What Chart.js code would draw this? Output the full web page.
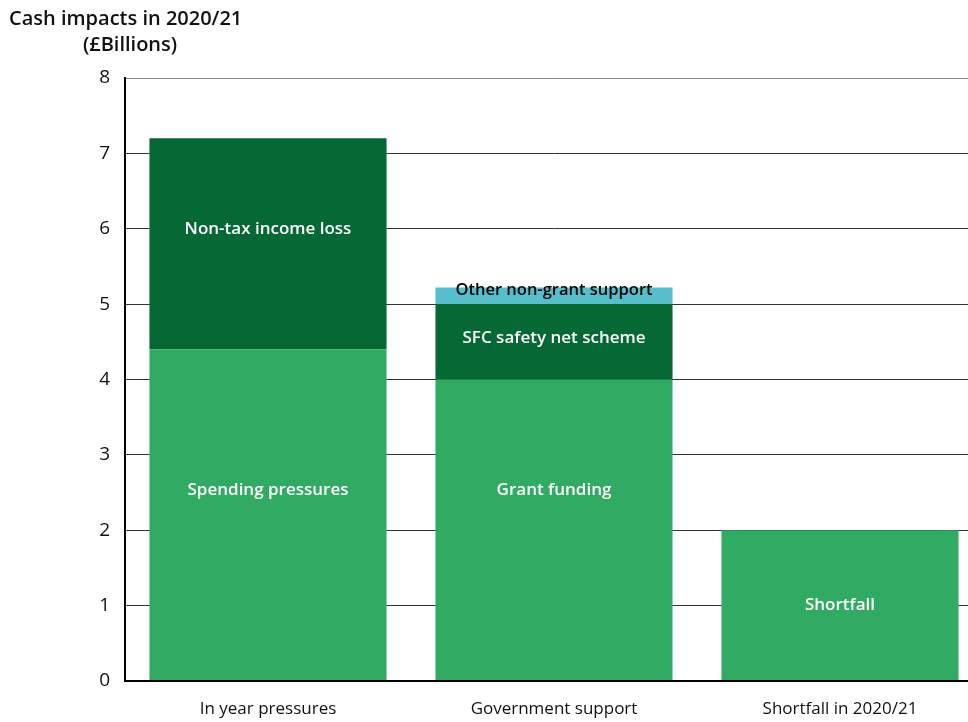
<!DOCTYPE html>
<html><head><meta charset="utf-8">
<script src="https://cdn.jsdelivr.net/npm/chart.js@4/dist/chart.umd.min.js"></script>
<style>html,body{margin:0;padding:0;overflow:hidden;background:#fff;width:968px;height:722px}#wrap{width:983px;height:722px;position:relative}</style>
</head><body><div id="wrap"><canvas id="c" width="983" height="722"></canvas></div>
<script>
const categories = ["In year pressures", "Government support", "Shortfall in 2020/21"];
const baseValues = [4.4, 4.0, 2.0];
const middleValues = [2.8, 1.0, null];
const topValues = [null, 0.22, null];
const baseLabels = ["Spending pressures", "Grant funding", "Shortfall"];
const middleLabels = ["Non-tax income loss", "SFC safety net scheme", ""];
const topLabels = ["", "Other non-grant support", ""];
const yTicks = [0, 1, 2, 3, 4, 5, 6, 7, 8];

const FONT = "'Open Sans', 'Noto Sans', sans-serif";

// label anchor values (in data units) per dataset & category
const labelAnchors = [[2.53, 2.53, 1.0], [6.0, 4.55, null], [5.19, 5.19, null]];
const labelSets = [baseLabels, middleLabels, topLabels];
const labelColors = ['#ffffff', '#ffffff', '#000000'];

const inBarLabels = {
  id: 'inBarLabels',
  afterDatasetsDraw(chart) {
    const ctx = chart.ctx;
    const y = chart.scales.y;
    ctx.save();
    ctx.textAlign = 'center';
    ctx.textBaseline = 'middle';
    chart.data.datasets.forEach((ds, di) => {
      const meta = chart.getDatasetMeta(di);
      meta.data.forEach((el, i) => {
        const txt = labelSets[di][i];
        if (!txt) return;
        ctx.fillStyle = labelColors[di];
        ctx.font = (di === 2 ? '600 16.5px ' : '600 17px ') + FONT;
        ctx.fillText(txt, el.x, y.getPixelForValue(labelAnchors[di][i]));
      });
    });
    ctx.restore();
  }
};

const titlePlugin = {
  id: 'titlePlugin',
  afterDraw(chart) {
    const ctx = chart.ctx;
    ctx.save();
    ctx.fillStyle = '#111';
    ctx.font = '600 20px ' + FONT;
    ctx.textBaseline = 'middle';
    ctx.textAlign = 'left';
    ctx.fillText('Cash impacts in 2020/21', 9, 19);
    ctx.textAlign = 'center';
    ctx.fillText('(£Billions)', 130, 45);
    ctx.restore();
  }
};

new Chart(document.getElementById('c'), {
  type: 'bar',
  data: {
    labels: categories,
    datasets: [
      { data: baseValues, backgroundColor: '#31ab63' },
      { data: middleValues, backgroundColor: '#066835' },
      { data: topValues, backgroundColor: '#56bfcb' }
    ]
  },
  options: {
    responsive: false,
    animation: false,
    devicePixelRatio: 1,
    layout: { padding: { top: 78, left: 0, right: 0, bottom: 0 } },
    datasets: { bar: { barPercentage: 1, categoryPercentage: 0.829, borderWidth: 0 } },
    plugins: { legend: { display: false }, tooltip: { enabled: false } },
    scales: {
      x: {
        stacked: true,
        grid: { display: false, drawTicks: false },
        border: { display: true, color: '#000', width: 2, z: 1 },
        ticks: { color: '#111', font: { family: FONT, size: 17 }, padding: 18 },
        afterFit(s) { s.height = 41; }
      },
      y: {
        stacked: true,
        min: 0, max: 8,
        afterBuildTicks(s) { s.ticks = yTicks.map(v => ({ value: v })); },
        grid: {
          drawTicks: false,
          color: c => (c.tick && c.tick.value === 8) ? '#8a8a8a' : '#333',
          lineWidth: 1
        },
        border: { display: true, color: '#000', width: 2 },
        ticks: { color: '#111', font: { family: FONT, size: 19 }, padding: 15 },
        afterFit(s) { s.width = 125; }
      }
    }
  },
  plugins: [inBarLabels, titlePlugin]
});
</script>
</body></html>
